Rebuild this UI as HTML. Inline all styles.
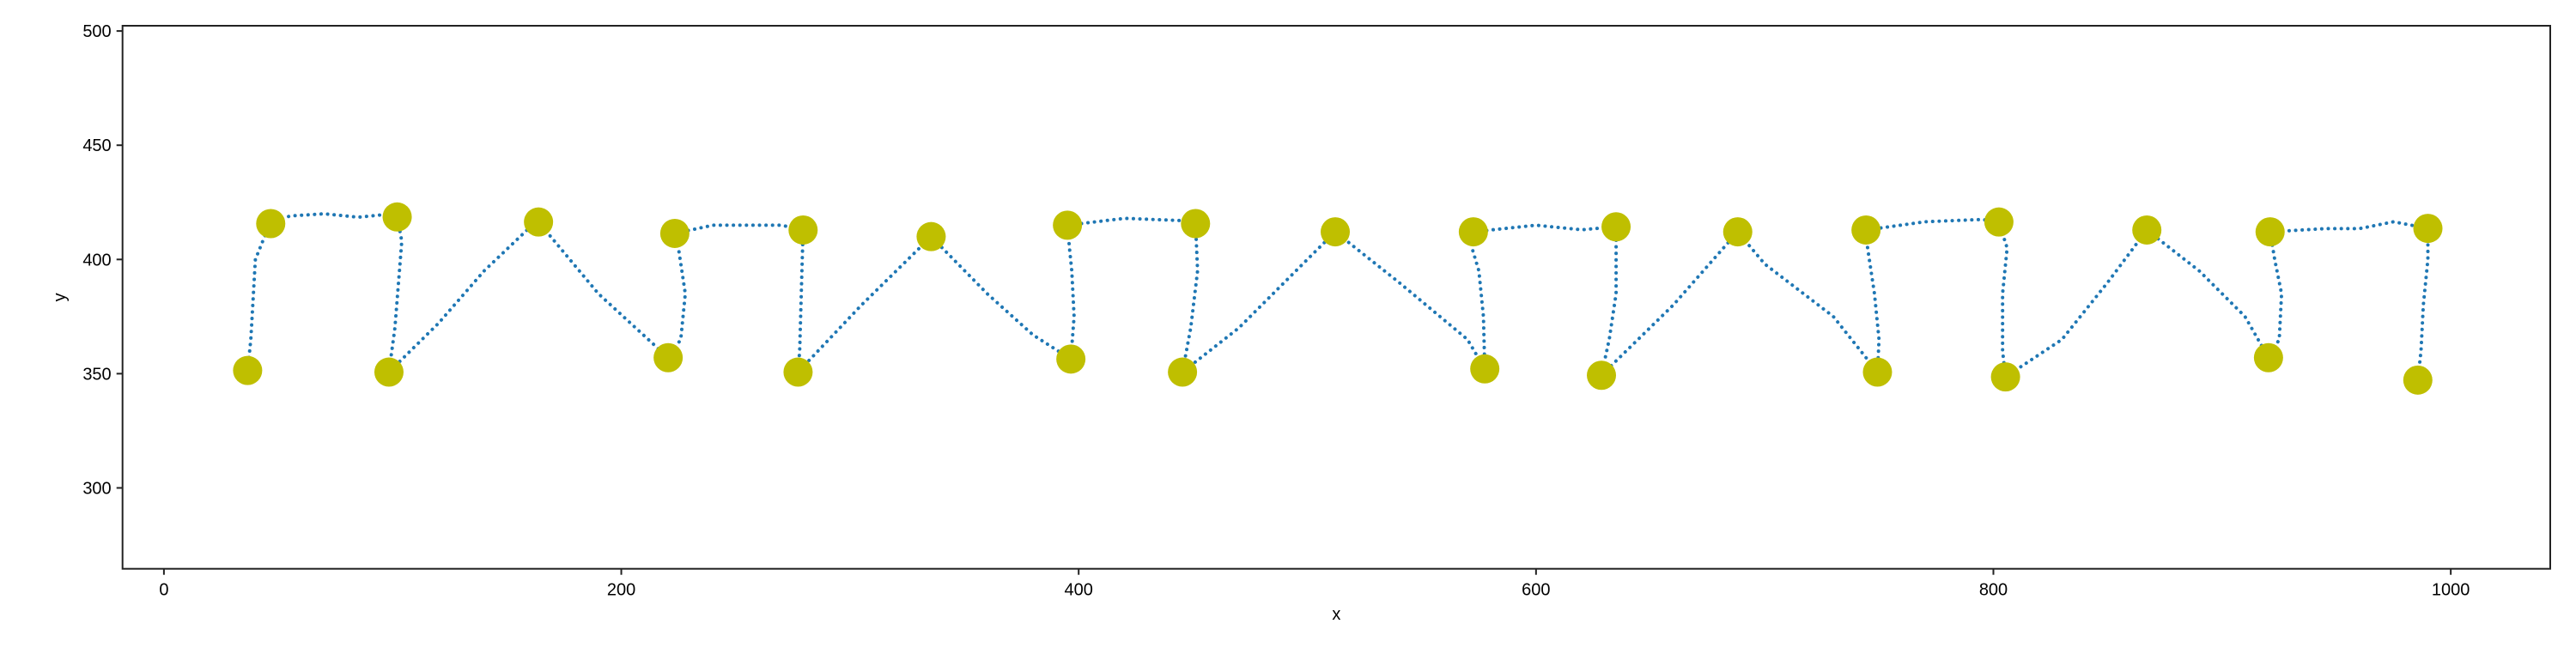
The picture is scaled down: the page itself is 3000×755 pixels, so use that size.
<!DOCTYPE html>
<html><head><meta charset="utf-8"><style>
html,body{margin:0;padding:0;background:#fff;}
svg text{font-family:"Liberation Sans","DejaVu Sans",sans-serif;fill:#000;}
</style></head><body>
<svg id="chart" width="3000" height="750" xmlns="http://www.w3.org/2000/svg">
<rect width="3000" height="750" fill="#fff"/>
<g id="plot"></g>
<g id="axes"></g>
</svg>
<script>
const xTicks=[0,200,400,600,800,1000];
const yTicks=[300,350,400,450,500];
const markerX=[36.6,46.7,102,98.4,163.8,223.4,220.5,279.5,277.3,335.5,395.1,396.6,451.1,445.4,512.2,572.6,577.6,635,628.6,688.2,744.3,749.3,802.4,805.3,867.1,921,920.3,990,985.6];
const markerY=[351.4,415.7,418.6,350.7,416.4,411.4,357,412.9,350.7,410,415,356.4,415.7,350.7,412.1,412.1,352.1,414.3,349.3,412.1,412.9,350.7,416.4,348.6,412.9,412.1,357,413.6,347.2];
const pathX=[36.6,38,40,44,46.7,55,70,85,95,102,104,103,101,98.4,120,140,160,163.8,190,220.5,226,228,225,223.4,240,270,279.5,279,278,277.3,305,335.5,360,380,396.6,398,397,396,395.1,420,445,451.1,452,449,445.4,470,500,512.2,540,570,577.6,577,575,572,572.6,600,620,635,635,632,628.6,660,688.2,700,730,749.3,750,748,745,744.3,770,795,802.4,806,804,804,805.3,830,850,867.1,890,910,920.3,925,926,923,921,945,960,975,990,990,988,987,985.6];
const pathY=[351.4,365,400,410,415.7,419,420,418.5,419.5,418.6,408,395,370,350.7,372,395,414,416.4,385,357,365,385,405,411.4,415,415,412.9,395,360,350.7,380,410,385,367,356.4,375,395,405,415,418,417,415.7,395,370,350.7,370,400,412.1,390,365,352.1,375,395,405,412.1,415,413,414.3,385,365,349.3,380,412.1,398,375,350.7,365,385,405,412.9,416.5,417.5,416.4,405,385,360,348.6,365,390,412.9,395,375,357,365,385,400,412.1,413.5,413.5,416.5,413.6,400,380,360,347.2];

const L=142.7,R=2970,T=30,B=662.7;
const xMin=-18.1,xMax=1043.5,yMin=264.6,yMax=502.3;
const sx=v=>L+(v-xMin)/(xMax-xMin)*(R-L);
const sy=v=>B-(v-yMin)/(yMax-yMin)*(B-T);
const NS='http://www.w3.org/2000/svg';
const plot=document.getElementById('plot'),axes=document.getElementById('axes');
function mk(tag,attrs,parent){const e=document.createElementNS(NS,tag);for(const k in attrs)e.setAttribute(k,attrs[k]);parent.appendChild(e);return e;}

let d='';
for(let i=0;i<pathX.length;i++){d+=(i?'L':'M')+sx(pathX[i]).toFixed(1)+' '+sy(pathY[i]).toFixed(1);}
const pl=mk('path',{d:d,fill:'none',stroke:'#1f77b4','stroke-width':4,'stroke-linecap':'round','stroke-dasharray':'0.1 7.5'},plot);



for(let i=0;i<markerX.length;i++){
  const c=mk('circle',{cx:sx(markerX[i]),cy:sy(markerY[i]),r:17,fill:'#bfbf00'},plot);
  
  
}

const frame=mk('rect',{x:L,y:T,width:R-L,height:B-T,fill:'none',stroke:'#222','stroke-width':2},axes);



for(const v of xTicks){
  const x=sx(v);
  const t=mk('line',{x1:x,x2:x,y1:B,y2:B+7,stroke:'#222','stroke-width':2},axes);
  
  
  const tx=mk('text',{x:x,y:B+31,'font-size':20,'text-anchor':'middle'},axes);
  tx.textContent=v;
  
  
}
for(const v of yTicks){
  const y=sy(v);
  const t=mk('line',{x1:L-7,x2:L,y1:y,y2:y,stroke:'#222','stroke-width':2},axes);
  
  
  const tx=mk('text',{x:L-13,y:y+7,'font-size':20,'text-anchor':'end'},axes);
  tx.textContent=v;
  
  
}
const xl=mk('text',{x:(L+R)/2,y:722,'font-size':20,'text-anchor':'middle'},axes);
xl.textContent='x';


const yl=mk('text',{x:0,y:0,'font-size':20,'text-anchor':'middle',transform:'translate(76,'+((T+B)/2)+') rotate(-90)'},axes);
yl.textContent='y';


</script>
</body></html>
